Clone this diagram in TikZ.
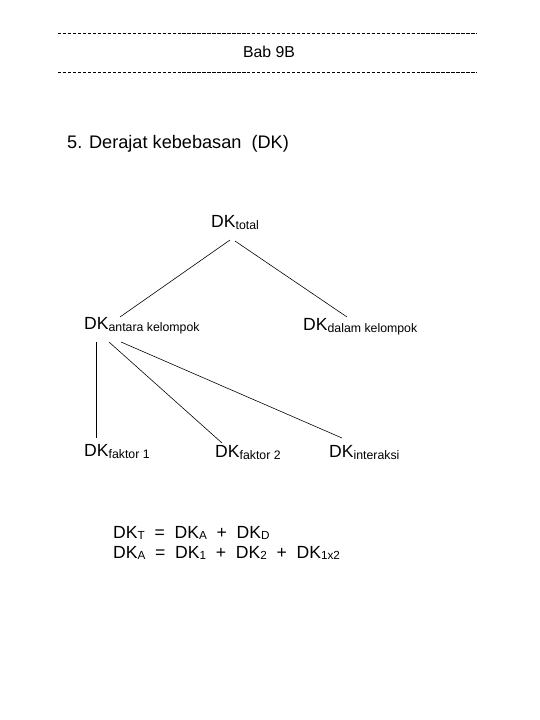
\documentclass[tikz,border=0pt]{standalone}
\usepackage{fontspec}
\setmainfont{Liberation Sans}
\newcommand{\dk}[1]{DK\raisebox{-2.5pt}{\fontsize{10.5}{12}\selectfont #1}}
\newcommand{\dq}[1]{DK\raisebox{-1pt}{\fontsize{10}{12}\selectfont #1}}
\begin{document}
\begin{tikzpicture}[x=0.03cm,y=-0.03cm,
    lbl/.style={inner sep=0pt,anchor=base west,font=\fontsize{15}{17}\selectfont},
    rule/.style={line width=0.6pt,dash pattern=on 2.8pt off 1.45pt},
    edge/.style={line width=0.5pt}]
    \useasboundingbox (0,0) rectangle (540,720);

    % header
    \coordinate (ruleA) at (58,33);
    \coordinate (ruleB) at (477,33);
    \coordinate (ruleC) at (58,72);
    \coordinate (ruleD) at (477,72);
    \draw[rule] (ruleA) -- (ruleB);
    \draw[rule] (ruleC) -- (ruleD);
    \node[inner sep=0pt,anchor=base,font=\fontsize{13.5}{16}\selectfont] (bab) at (269,57) {Bab 9B};
    \node[inner sep=0pt,anchor=base west,font=\fontsize{15.5}{18}\selectfont] (judul) at (67,148) {5. Derajat kebebasan \ (DK)};

    % tree
    \node[lbl] (total) at (211,227) {\dk{total}};
    \node[lbl] (antara) at (84,329) {\dk{antara kelompok}};
    \node[lbl] (dalam) at (303,330) {\dk{dalam kelompok}};
    \node[lbl] (faktorA) at (84,456) {\dk{faktor 1}};
    \node[lbl] (faktorB) at (215,457) {\dk{faktor 2}};
    \node[lbl] (interaksi) at (329,457) {\dk{interaksi}};

    \draw[edge] ([shift={(19,13)}]total.base west) -- ([shift={(36,-12)}]antara.base west);
    \draw[edge] ([shift={(24,14)}]total.base west) -- ([shift={(44,-13)}]dalam.base west);
    \draw[edge] ([shift={(12,13)}]antara.base west) -- ([shift={(12,-18)}]faktorA.base west);
    \draw[edge] ([shift={(25,13)}]antara.base west) -- ([shift={(7,-14)}]faktorB.base west);
    \draw[edge] ([shift={(37,13)}]antara.base west) -- ([shift={(13,-19)}]interaksi.base west);

    % rumus
    \node[lbl] (rumusA) at (113,538) {\dq{T} \ = \ \dq{A} \ + \ \dq{D}};
    \node[lbl] (rumusB) at (113,558) {\dq{A} \ = \ \dq{1} \ + \ \dq{2} \ + \ \dq{1x2}};
\end{tikzpicture}
\end{document}
